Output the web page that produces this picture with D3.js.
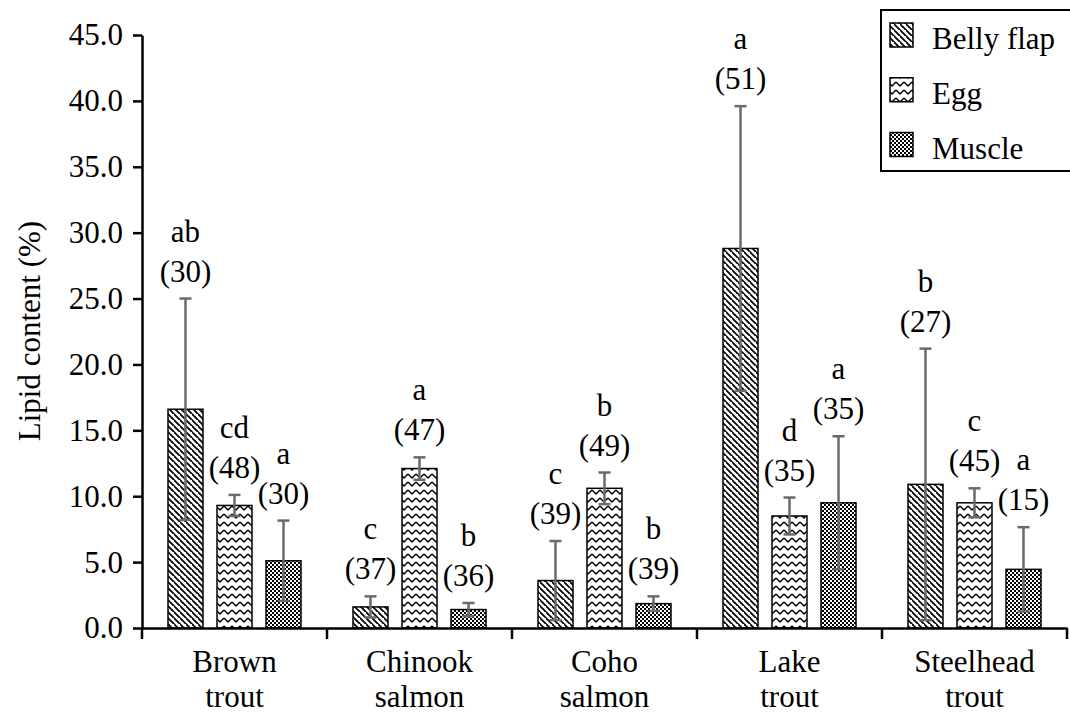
<!DOCTYPE html>
<html>
<head>
<meta charset="utf-8">
<script src="https://cdn.jsdelivr.net/npm/d3@7"></script>
<style>
  body { margin: 0; background: #fff; }
  svg { display: block; }
  #chart text { font-family: 'Liberation Serif', Times, serif !important; }
</style>
</head>
<body>
<svg id="chart" width="1070" height="714"></svg>
<script>
// Fish species (x categories) and tissue types (series)
const species = ["Brown trout", "Chinook salmon", "Coho salmon", "Lake trout", "Steelhead trout"];
const tissues = ["Belly flap", "Egg", "Muscle"];

// Mean lipid content (%) and standard deviation per tissue
const bellyFlap   = [16.6, 1.6, 3.6, 28.8, 10.9];
const bellyFlapSD = [8.4, 0.8, 3.0, 10.8, 10.3];
const egg         = [9.3, 12.1, 10.6, 8.5, 9.5];
const eggSD       = [0.8, 0.85, 1.2, 1.4, 1.1];
const muscle      = [5.1, 1.4, 1.85, 9.5, 4.45];
const muscleSD    = [3.05, 0.5, 0.55, 5.05, 3.2];

// Significance letters and sample sizes
const bellyFlapGroup = ["ab", "c", "c", "a", "b"];
const bellyFlapN     = [30, 37, 39, 51, 27];
const eggGroup       = ["cd", "a", "b", "d", "c"];
const eggN           = [48, 47, 49, 35, 45];
const muscleGroup    = ["a", "b", "b", "a", "a"];
const muscleN        = [30, 36, 39, 35, 15];

const yTicks = [0, 5, 10, 15, 20, 25, 30, 35, 40, 45];
const yTitle = "Lipid content (%)";

const seriesValues = [bellyFlap, egg, muscle];
const seriesSD = [bellyFlapSD, eggSD, muscleSD];
const seriesGroup = [bellyFlapGroup, eggGroup, muscleGroup];
const seriesN = [bellyFlapN, eggN, muscleN];

const rows = [];
species.forEach((sp, i) => {
  tissues.forEach((t, k) => {
    rows.push({ species: sp, tissue: t, value: seriesValues[k][i], sd: seriesSD[k][i],
                group: seriesGroup[k][i], n: seriesN[k][i] });
  });
});

const svg = d3.select("#chart");
const plotLeft = 142, plotRight = 1067, plotTop = 35, plotBottom = 628;
const FONT = "'Liberation Serif'";
const FS = "31px";

// Serif text styling, applied with high priority
function serifText(sel) {
  sel.attr("font-family", "Liberation Serif").attr("font-size", 31).attr("fill", "#000");
  sel.each(function () {
    this.style.setProperty("font-family", FONT, "important");
    this.style.setProperty("font-size", FS, "important");
  });
  return sel;
}

function addText(parent, x, yPos, str, anchor) {
  return serifText(parent.append("text")
    .attr("x", x).attr("y", yPos)
    .attr("text-anchor", anchor || "start")
    .text(str));
}

const x0 = d3.scaleBand().domain(species).range([plotLeft, plotRight]).padding(0);
const x1 = d3.scaleBand().domain(tissues).range([26, x0.bandwidth() - 26]).paddingInner(0.286).paddingOuter(0);
const y = d3.scaleLinear().domain([0, 45]).range([plotBottom, plotTop]);

// Fill patterns
const defs = svg.append("defs");
const pBelly = defs.append("pattern").attr("id", "pat-belly")
  .attr("patternUnits", "userSpaceOnUse").attr("width", 6).attr("height", 6);
pBelly.append("rect").attr("width", 6).attr("height", 6).attr("fill", "#fff");
pBelly.append("path").attr("d", "M-1,-1 L7,7 M-4,2 L2,8 M4,-4 L10,2")
  .attr("stroke", "#000").attr("stroke-width", 1.7);

const pEgg = defs.append("pattern").attr("id", "pat-egg")
  .attr("patternUnits", "userSpaceOnUse").attr("width", 8).attr("height", 8);
pEgg.append("rect").attr("width", 8).attr("height", 8).attr("fill", "#fff");
pEgg.append("path").attr("d", "M0,2 L4,6 L8,2")
  .attr("stroke", "#000").attr("stroke-width", 1.5).attr("fill", "none");

const pMuscle = defs.append("pattern").attr("id", "pat-muscle")
  .attr("patternUnits", "userSpaceOnUse").attr("width", 4).attr("height", 4);
pMuscle.append("rect").attr("width", 4).attr("height", 4).attr("fill", "#fff");
pMuscle.append("rect").attr("width", 2).attr("height", 2).attr("fill", "#000");
pMuscle.append("rect").attr("x", 2).attr("y", 2).attr("width", 2).attr("height", 2).attr("fill", "#000");

const fills = d3.scaleOrdinal().domain(tissues).range(["url(#pat-belly)", "url(#pat-egg)", "url(#pat-muscle)"]);

// Bars
const barX = d => x0(d.species) + x1(d.tissue);
svg.append("g").selectAll("rect").data(rows).join("rect")
  .attr("x", barX)
  .attr("y", d => y(d.value))
  .attr("width", x1.bandwidth())
  .attr("height", d => y(0) - y(d.value))
  .attr("fill", d => fills(d.tissue))
  .attr("stroke", "#000").attr("stroke-width", 1.5);

// Error bars (± SD)
const capHalf = 6;
const eg = svg.append("g").attr("stroke", "#6a6a6a").attr("stroke-width", 2.5).attr("fill", "none");
rows.forEach(d => {
  const cx = barX(d) + x1.bandwidth() / 2;
  const yHi = y(d.value + d.sd), yLo = y(Math.max(0, d.value - d.sd));
  eg.append("line").attr("x1", cx).attr("x2", cx).attr("y1", yHi).attr("y2", yLo);
  eg.append("line").attr("x1", cx - capHalf).attr("x2", cx + capHalf).attr("y1", yHi).attr("y2", yHi);
  eg.append("line").attr("x1", cx - capHalf).attr("x2", cx + capHalf).attr("y1", yLo).attr("y2", yLo);
});

// Letters and sample sizes above the error bars
const lg = svg.append("g");
rows.forEach(d => {
  const cx = barX(d) + x1.bandwidth() / 2;
  const base = y(d.value + d.sd) - 17;
  addText(lg, cx, base, `(${d.n})`, "middle");
  addText(lg, cx, base - 40, d.group, "middle");
});

// Y axis
const yAxis = svg.append("g").attr("transform", `translate(${plotLeft},0)`)
  .call(d3.axisLeft(y).tickValues(yTicks).tickFormat(d3.format(".1f"))
    .tickSize(9).tickSizeOuter(0).tickPadding(10));
yAxis.attr("font-family", "Liberation Serif").attr("font-size", 31);
yAxis.select(".domain").attr("stroke-width", 2.5);
yAxis.selectAll(".tick line").attr("stroke-width", 2.5);
serifText(yAxis.selectAll(".tick text"));

// X axis line with category boundary ticks
const xAxis = svg.append("g").attr("transform", `translate(0,${plotBottom})`)
  .call(d3.axisBottom(x0).tickSize(0).tickSizeOuter(0).tickFormat(""));
xAxis.select(".domain").attr("stroke-width", 2.5);
const bounds = species.map(s => x0(s)).concat([x0(species[species.length - 1]) + x0.bandwidth()]);
svg.append("g").selectAll("line").data(bounds).join("line")
  .attr("x1", d => d).attr("x2", d => d)
  .attr("y1", plotBottom).attr("y2", plotBottom + 11)
  .attr("stroke", "#000").attr("stroke-width", 2.5);

// Category labels on two lines
const cl = svg.append("g");
species.forEach(s => {
  const parts = s.split(" ");
  const cx = x0(s) + x0.bandwidth() / 2;
  addText(cl, cx, 672, parts[0], "middle");
  addText(cl, cx, 707, parts[1], "middle");
});

// Y axis title
addText(svg, 0, 0, yTitle, "middle")
  .attr("transform", "translate(40,331) rotate(-90)");

// Legend
const legend = svg.append("g");
legend.append("rect").attr("x", 881).attr("y", 10).attr("width", 190).attr("height", 161)
  .attr("fill", "#fff").attr("stroke", "#000").attr("stroke-width", 2);
const swatchY = d3.scalePoint().domain(tissues).range([35, 144.5]);
const labelY = d3.scalePoint().domain(tissues).range([49, 159]);
tissues.forEach(t => {
  const cy = swatchY(t);
  legend.append("rect").attr("x", 890).attr("y", cy - 12).attr("width", 23).attr("height", 24)
    .attr("fill", fills(t)).attr("stroke", "#000").attr("stroke-width", 1.5);
  addText(legend, 932, labelY(t), t);
});
</script>
</body>
</html>
